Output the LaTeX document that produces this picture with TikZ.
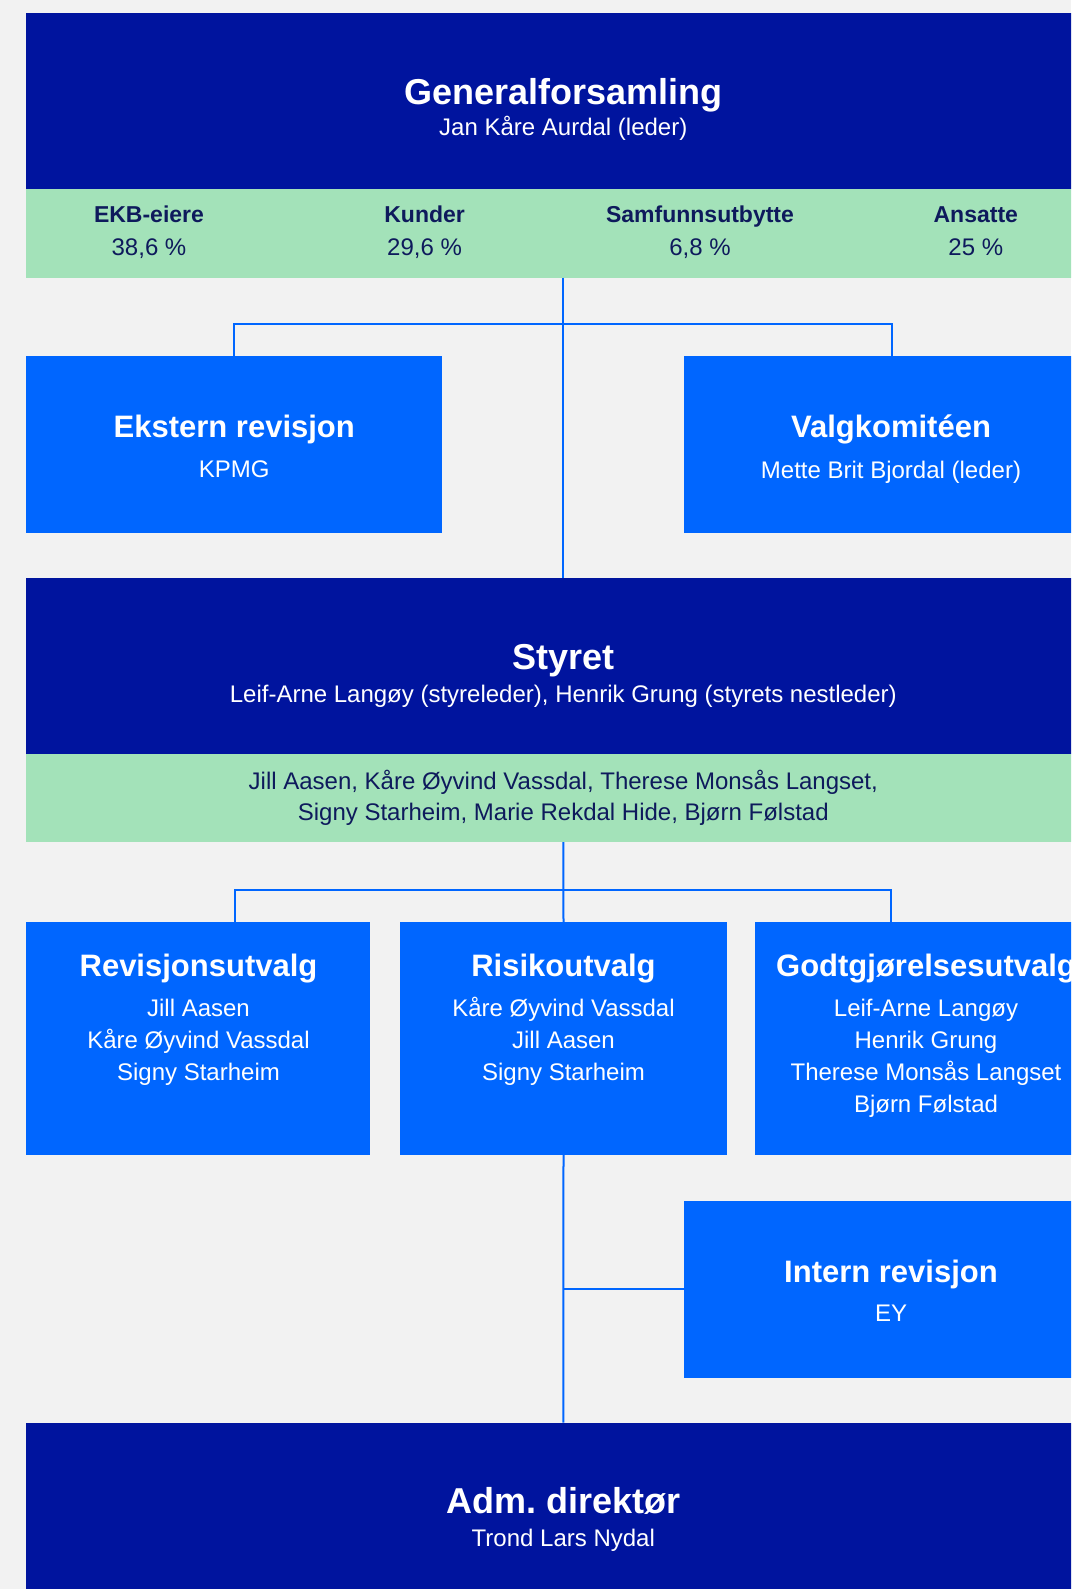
\documentclass[tikz,border=0pt]{standalone}
\usepackage{fontspec}
\setmainfont{Liberation Sans}
\usepackage{xcolor}
\definecolor{navy}{HTML}{00149E}
\definecolor{brightblue}{HTML}{0066FF}
\definecolor{mint}{HTML}{A3E2B9}
\definecolor{inkblue}{HTML}{0E1A5C}
\definecolor{paper}{HTML}{F2F2F2}
\frenchspacing

\tikzset{
  darkbox/.style={fill=navy, anchor=north west, inner sep=0pt, outer sep=0pt},
  lightbox/.style={fill=brightblue, anchor=north west, inner sep=0pt, outer sep=0pt},
  band/.style={fill=mint, anchor=north west, inner sep=0pt, outer sep=0pt},
  headtext/.style={anchor=base, inner sep=0pt, text=white, font=\fontsize{36}{40}\selectfont\bfseries},
  boxtitle/.style={anchor=base, inner sep=0pt, text=white, font=\fontsize{31}{36}\selectfont\bfseries},
  person/.style={anchor=base, inner sep=0pt, text=white, font=\fontsize{24}{28}\selectfont},
  owner/.style={anchor=base, inner sep=0pt, text=inkblue, font=\fontsize{23}{28}\selectfont\bfseries},
  share/.style={anchor=base, inner sep=0pt, text=inkblue, font=\fontsize{24}{28}\selectfont},
  link/.style={draw=brightblue, line width=2pt}
}

\begin{document}
\begin{tikzpicture}[x=1pt,y=-1pt]
    \fill[paper] (0,0) rectangle (1071,1589);
    \clip (0,0) rectangle (1071,1589);

    % boxes
    \node[darkbox, minimum width=1074pt, minimum height=176.5pt] (gf) at (26.3,13) {};
    \node[band, minimum width=1074pt, minimum height=88.2pt] (gfband) at (gf.south west) {};
    \node[lightbox, minimum width=416pt, minimum height=176.7pt] (ekstern) at (26.3,356) {};
    \node[lightbox, minimum width=416pt, minimum height=176.7pt] (valg) at (684,356) {};
    \node[darkbox, minimum width=1074pt, minimum height=176pt] (styret) at (26.3,578) {};
    \node[band, minimum width=1074pt, minimum height=88pt] (styretband) at (styret.south west) {};
    \node[lightbox, minimum width=344pt, minimum height=233.1pt] (revutv) at (26.3,922) {};
    \node[lightbox, minimum width=327.6pt, minimum height=233.1pt] (risiko) at (399.7,922) {};
    \node[lightbox, minimum width=345.3pt, minimum height=233.1pt] (godtgj) at (754.7,922) {};
    \node[lightbox, minimum width=416pt, minimum height=176.7pt] (intern) at (684,1201) {};
    \node[darkbox, minimum width=1074pt, minimum height=176pt] (adm) at (26.3,1422.6) {};

    % connectors
    \coordinate (fork1) at (563.3,324);
    \coordinate (revtap) at (234.7,889.5);
    \coordinate (godttap) at (891,889.5);
    \draw[link] (gfband.south) -- (styret.north);
    \draw[link] (ekstern.north) |- (fork1) -| (valg.north);
    \draw[link] (styretband.south) -- (risiko.north);
    \draw[link] (revtap |- revutv.north) -- (revtap) -- (godttap) -- (godttap |- godtgj.north);
    \draw[link] (risiko.south) -- (adm.north);
    \draw[link] (risiko.south |- intern.west) -- (intern.west);

    % texts
    \node[headtext] (gfhead) at (563.3,104.4) {Generalforsamling};
    \node[person] (gfname) at (563.3,136) {Jan Kåre Aurdal (leder)};
    \foreach \lbl/\val/\xx [count=\i] in
    {EKB-eiere/{38,6 \%}/149, Kunder/{29,6 \%}/424.6, Samfunnsutbytte/{6,8 \%}/700, Ansatte/{25 \%}/975.8}
    {
      \node[owner] (owner\i) at (\xx,222.3) {\lbl};
      \node[share] (share\i) at (\xx,255) {\val};
    }

    \node[boxtitle] (eksternhead) at (234.3,437) {Ekstern revisjon};
    \node[person] (eksternname) at (234.3,477.5) {KPMG};
    \node[boxtitle] (valghead) at (891,437) {Valgkomitéen};
    \node[person] (valgname) at (891,478) {Mette Brit Bjordal (leder)};

    \node[headtext] (styrethead) at (563.3,669) {Styret};
    \node[person] (styretname) at (563.3,702) {Leif-Arne Langøy (styreleder), Henrik Grung (styrets nestleder)};
    \node[share] (members1) at (563.3,789) {Jill Aasen, Kåre Øyvind Vassdal, Therese Monsås Langset,};
    \node[share] (members2) at (563.3,820.6) {Signy Starheim, Marie Rekdal Hide, Bjørn Følstad};

    \node[boxtitle] (revhead) at (198.5,976) {Revisjonsutvalg};
    \foreach \who [count=\i] in {Jill Aasen, Kåre Øyvind Vassdal, Signy Starheim}
      \node[person] (rev\i) at (198.5,984+32*\i) {\who};
    \node[boxtitle] (risikohead) at (563.5,976) {Risikoutvalg};
    \foreach \who [count=\i] in {Kåre Øyvind Vassdal, Jill Aasen, Signy Starheim}
      \node[person] (risiko\i) at (563.5,984+32*\i) {\who};
    \node[boxtitle] (godthead) at (926,976) {Godtgjørelsesutvalg};
    \foreach \who [count=\i] in {Leif-Arne Langøy, Henrik Grung, Therese Monsås Langset, Bjørn Følstad}
      \node[person] (godt\i) at (926,984+32*\i) {\who};

    \node[boxtitle] (internhead) at (891,1282) {Intern revisjon};
    \node[person] (internname) at (891,1321.7) {EY};

    \node[headtext] (admhead) at (563.3,1513.6) {Adm. direktør};
    \node[person] (admname) at (563.3,1546) {Trond Lars Nydal};
  \end{tikzpicture}
\end{document}
